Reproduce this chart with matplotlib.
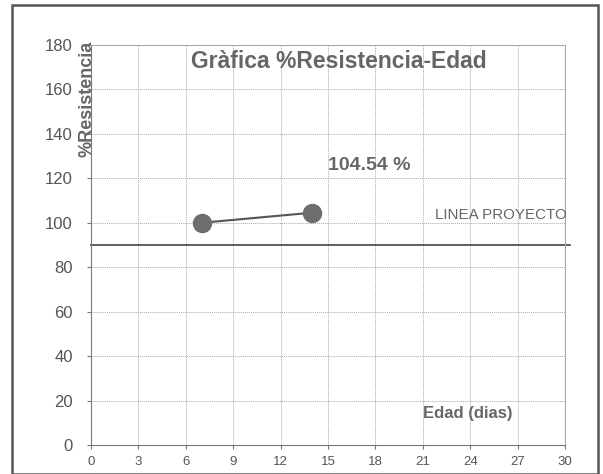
import matplotlib
matplotlib.use("Agg")
import matplotlib.pyplot as plt
from matplotlib.patches import Rectangle

plt.rcParams['font.family'] = ['Liberation Sans', 'DejaVu Sans']

edad = [7, 14]
resistencia = [100, 104.54]
linea_proyecto = 90
xticks = list(range(0, 31, 3))
yticks = list(range(0, 181, 20))

fig = plt.figure(figsize=(6.03, 4.74), dpi=100)
fig.patches.append(Rectangle((12/603, 0), 586/603, 469/474, transform=fig.transFigure,
                             fill=False, edgecolor="#555555", linewidth=1.8))
ax = fig.add_axes([91/603, 29/474, 474/603, 400/474])
ax.set_xlim(0, 30)
ax.set_ylim(0, 180)
ax.set_xticks(xticks)
ax.set_yticks(yticks)
ax.grid(True, color="#aaaaaa", linestyle=(0, (1, 1)), linewidth=0.7)
for s in ["top", "right"]:
    ax.spines[s].set_color("#aaaaaa")
    ax.spines[s].set_linestyle((0, (1, 1)))
for s in ["left", "bottom"]:
    ax.spines[s].set_color("#777777")
ax.tick_params(axis="x", colors="#777777", labelsize=9.5, labelcolor="#555555",
               length=3, pad=5)
ax.tick_params(axis="y", colors="#777777", labelsize=12, labelcolor="#555555",
               length=3, pad=10)

ax.plot(edad, resistencia, color="#555555", linewidth=1.5, marker="o",
        markersize=13, markerfacecolor="#6e6e6e", markeredgecolor="#6e6e6e", zorder=3)
ax.plot([0, 30.3], [linea_proyecto, linea_proyecto], color="#444444", linewidth=1.2,
        clip_on=False, zorder=2)

ax.text(15.7, 172.5, "Gràfica %Resistencia-Edad", ha="center", va="center",
        fontsize=16.5, fontweight="bold", color="#666666")
ax.text(15.0, 126, f"{resistencia[-1]:.2f} %", ha="left", va="center",
        fontsize=14, fontweight="bold", color="#666666")
ax.text(21.8, 103.7, "LINEA PROYECTO", ha="left", va="center",
        fontsize=10.9, color="#666666")
ax.text(21.0, 14, "Edad (dias)", ha="left", va="center",
        fontsize=12, fontweight="bold", color="#666666")
ax.text(-0.25, 182, "%Resistencia", rotation=90, ha="center", va="top",
        fontsize=13, fontweight="bold", color="#666666")

fig.savefig("out.png", dpi=100)
